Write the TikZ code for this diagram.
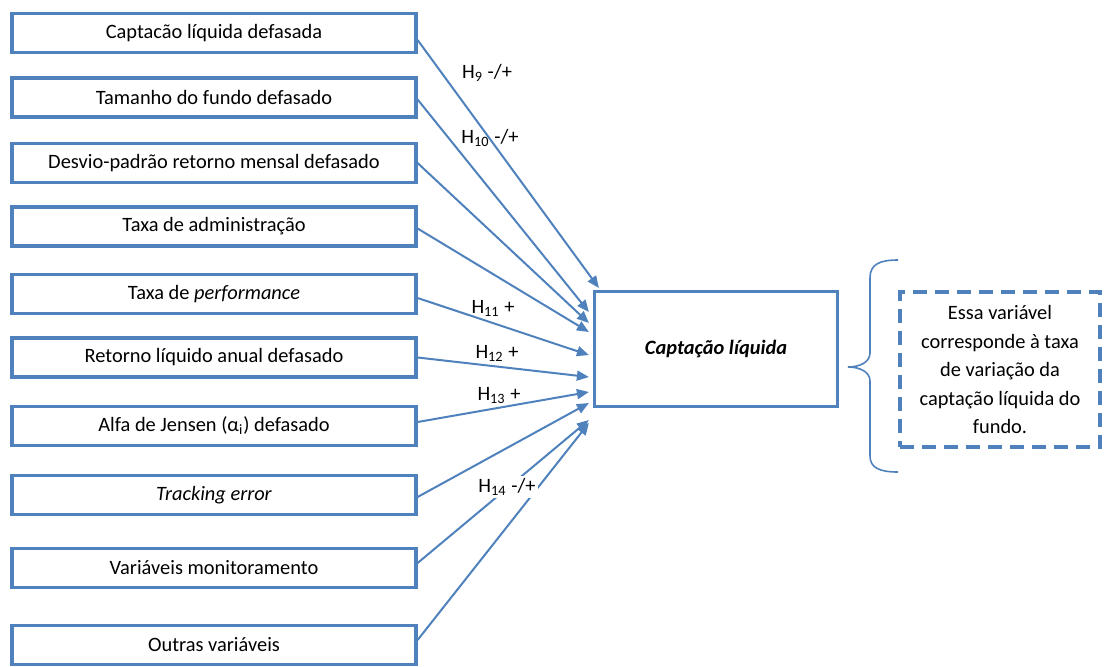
\documentclass[tikz,border=0pt]{standalone}
\usepackage{fontspec}
\setmainfont{Carlito}
\usetikzlibrary{arrows.meta,calc}
\definecolor{officeblue}{RGB}{79,129,189}

\begin{document}
\begin{tikzpicture}[x=0.5pt, y=-0.5pt,
    font=\fontsize{10.2}{14.25}\selectfont,
    varbox/.style={draw=officeblue, line width=1.6pt, minimum width=202pt, minimum height=19.5pt, inner sep=0pt},
    hyparrow/.style={draw=officeblue, line width=1pt, -{Triangle[length=6pt,width=5pt]}},
    hyplabel/.style={inner sep=1pt}]

    \useasboundingbox (0,0) rectangle (1104,666);

    % Draw explanatory variables
    \foreach \name/\ypos/\txt in {
        v1/33/{Captacão líquida defasada},
        v2/97.5/{Tamanho do fundo defasado},
        v3/163/{Desvio-padrão retorno mensal defasado},
        v4/226.5/{Taxa de administração},
        v5/294/{Taxa de \textit{performance}},
        v6/357.5/{Retorno líquido anual defasado},
        v7/426/{Alfa de Jensen (α\textsubscript{i}) defasado},
        v8/495/{\textit{Tracking error}},
        v9/568/{Variáveis monitoramento},
        v10/645/{Outras variáveis}} {
        \node[varbox] (\name) at (214,\ypos) {\txt};
    }

    % Draw dependent variable
    \node[draw=officeblue, line width=1.6pt, minimum width=121.5pt, minimum height=57.5pt] (cl) at (716,349)
        {\bfseries\itshape Captação líquida};

    % Draw hypotheses arrows
    \foreach \src/\sy/\ex/\ey in {
        v1/7/6/-61, v2/2/-4/-37, v3/0/-4/-26, v4/2/-4/-17, v5/4/-4/6,
        v6/0/-4/28, v7/-4/-4/43, v8/2/-4/54, v9/-5/-4/71, v10/-5/-4/74} {
        \draw[hyparrow] ($(\src.east)+(0,\sy)$) -- ($(cl.west)+(\ex,\ey)$);
    }

    % Hypotheses labels
    \node[hyplabel] (h9) at (487,73) {H\textsubscript{9} -/+};
    \node[hyplabel] (h10) at (490,138) {H\textsubscript{10} -/+};
    \node[hyplabel] (h11) at (493,308) {H\textsubscript{11} +};
    \node[hyplabel] (h12) at (497,353) {H\textsubscript{12} +};
    \node[hyplabel] (h13) at (499,395) {H\textsubscript{13} +};
    \node[hyplabel, fill=white] (h14) at (507,487) {H\textsubscript{14} -/+};

    % Brace and note
    \draw[officeblue, line width=0.8pt] (898,260) .. controls (880,260) and (870,264) .. (870,278)
        -- (870,353) .. controls (870,362) and (860,367) .. (848,367)
        .. controls (860,367) and (870,372) .. (870,381)
        -- (870,456) .. controls (870,468) and (880,472) .. (898,472);
    \node[draw=officeblue, line width=1.6pt, dash pattern=on 7pt off 4pt, minimum width=100pt,
        minimum height=77.5pt, align=center, inner sep=0pt] (note) at (1000,369.5)
        {Essa variável\\corresponde à taxa\\de variação da\\captação líquida do\\fundo.};
\end{tikzpicture}
\end{document}
